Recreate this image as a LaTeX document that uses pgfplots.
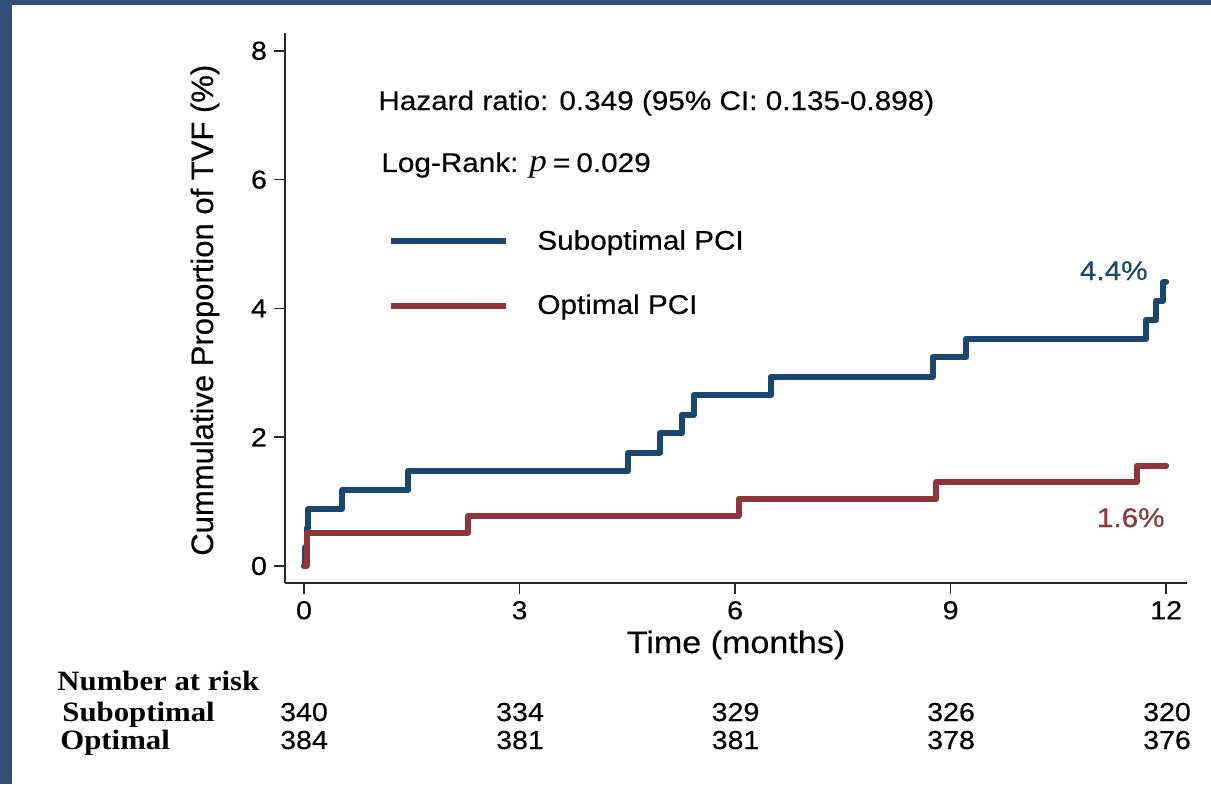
\documentclass[border=0pt]{standalone}
\usepackage{fontspec}
\setmainfont{Liberation Sans}[FakeStretch=1.1, FakeBold=0.35]
\newfontfamily\plainsans{Liberation Sans}[FakeBold=0.35]
\newfontfamily\tnr{Liberation Serif}[FakeStretch=1.1]
\usepackage{pgfplots}
\pgfplotsset{compat=1.18}
\definecolor{navy}{RGB}{26,71,111}
\definecolor{maroon}{RGB}{144,53,59}
\definecolor{slide}{RGB}{52,80,122}
\definecolor{axisgray}{RGB}{40,40,40}

\begin{document}
\begin{tikzpicture}
\fill[slide] (0,0) rectangle (605.5pt,392pt);
\fill[white] (6pt,0) rectangle (605.5pt,389.5pt);
\begin{axis}[
  at={(142.5pt,100.5pt)}, anchor=south west,
  scale only axis, width=451pt, height=275pt,
  xmin=-0.2645, xmax=12.29, ymin=-0.264, ymax=8.276,
  axis x line*=bottom, axis y line*=left,
  axis line style={line width=0.75pt, color=axisgray},
  xtick={0,3,6,9,12}, ytick={0,2,4,6,8},
  tick align=outside, major tick length=5.5pt,
  tick style={line width=0.75pt, color=axisgray},
  /pgf/number format/assume math mode=true,
  tick label style={font=\fontsize{13}{15}\selectfont},
  xlabel={Time (months)},
  ylabel={Cummulative Proportion of TVF (\%)},
  every axis x label/.style={at={(axis description cs:0.5,-0.1127)}, anchor=center, font=\fontsize{15.5}{18}\selectfont},
  every axis y label/.style={at={(axis description cs:-0.0887,0.496)}, anchor=center, rotate=90, font=\plainsans\fontsize{15.5}{18}\selectfont},
  clip=false,
  legend cell align=left,
  legend style={draw=none, fill=none, at={(0.1142,0.5627)}, anchor=west, inner sep=0pt,
    font=\fontsize{13.5}{16}\selectfont, row sep=20.8pt, column sep=14pt, nodes={inner sep=0pt}},
  legend image code/.code={\draw[#1, line cap=butt] (0pt,0pt) -- (57.5pt,0pt);},
]
\addplot[const plot, navy, line width=3pt, line cap=round, line join=round] coordinates {
(0,0) (0.02,0.29) (0.04,0.59) (0.06,0.88) (0.53,1.18) (1.45,1.47)
(4.51,1.76) (4.95,2.06) (5.26,2.35) (5.43,2.65) (6.50,2.94)
(8.75,3.24) (9.22,3.53) (11.72,3.82) (11.86,4.12) (11.96,4.41) (12.00,4.41)
};
\addlegendentry{Suboptimal PCI}
\addplot[const plot, maroon, line width=3pt, line cap=round, line join=round] coordinates {
(0,0) (0.04,0.52) (2.28,0.78) (6.05,1.04) (8.80,1.30) (11.59,1.56) (12.00,1.56)
};
\addlegendentry{Optimal PCI}
\end{axis}
\begin{scope}[every node/.style={inner sep=0pt}]
\node[anchor=base west, font=\fontsize{13.5}{16}\selectfont] at (189pt,337pt) {Hazard ratio: 0.349 (95\% CI: 0.135-0.898)};
\node[anchor=base west, font=\fontsize{13.5}{16}\selectfont] at (190.5pt,306pt) {Log-Rank: {\tnr\itshape\fontsize{16}{18}\selectfont p}\hspace{3pt}=\hspace{3pt}0.029};
\node[anchor=base east, text=navy, font=\fontsize{13.5}{16}\selectfont] at (574pt,252pt) {4.4\%};
\node[anchor=base east, text=maroon, font=\fontsize{13.5}{16}\selectfont] at (582.5pt,128.5pt) {1.6\%};
\node[anchor=base west, font=\tnr\bfseries\fontsize{14}{16}\selectfont] at (28.5pt,47pt) {Number at risk};
\node[anchor=base west, font=\tnr\bfseries\fontsize{14}{16}\selectfont] at (31pt,31.5pt) {Suboptimal};
\node[anchor=base west, font=\tnr\bfseries\fontsize{14}{16}\selectfont] at (30pt,17.5pt) {Optimal};
\foreach \x/\a/\b in {152/340/384, 260/334/381, 367.75/329/381, 475.5/326/378, 583.5/320/376}{
  \node[anchor=base, font=\fontsize{13}{15}\selectfont] at (\x pt,31.5pt) {\a};
  \node[anchor=base, font=\fontsize{13}{15}\selectfont] at (\x pt,17.5pt) {\b};
}
\end{scope}
\end{tikzpicture}
\end{document}
